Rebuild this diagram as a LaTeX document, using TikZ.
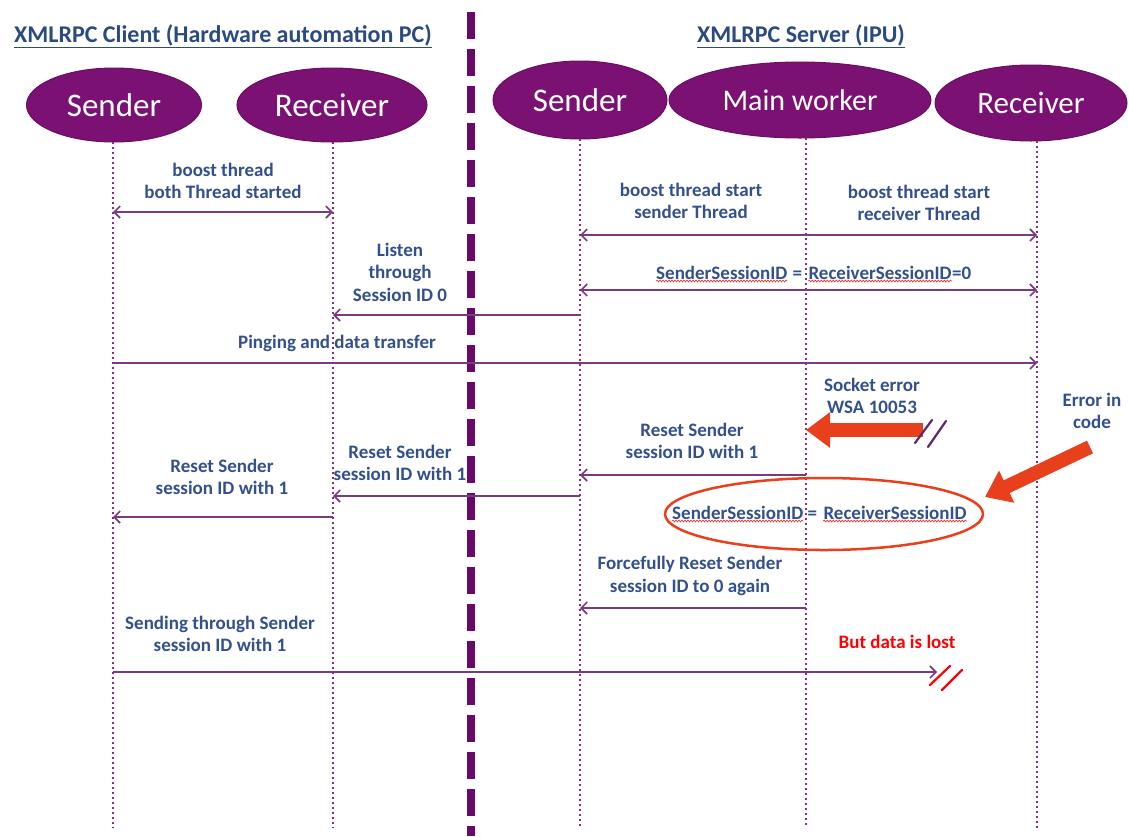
\documentclass[tikz,border=0pt]{standalone}
\usepackage{fontspec}
\setmainfont{Carlito}
\usetikzlibrary{arrows.meta,shapes.geometric,decorations.pathmorphing}
\definecolor{actorfill}{HTML}{7B1173}
\definecolor{lifec}{HTML}{8A2A82}
\definecolor{msgc}{HTML}{7A3A80}
\definecolor{txtc}{HTML}{34508C}
\definecolor{headc}{HTML}{2B4A80}
\definecolor{divc}{HTML}{6A0A68}
\definecolor{errred}{HTML}{E8401C}
\definecolor{slashc}{HTML}{5A2A6A}
\begin{document}
\begin{tikzpicture}[x=1pt,y=-1pt,
 actor/.style={ellipse, fill=actorfill, draw=actorfill!85!black, line width=1pt, text=white, inner sep=0pt},
 life/.style={draw=lifec, line width=2pt, dash pattern=on 2pt off 3pt},
 msg/.style={draw=msgc, line width=1.6pt, -{Straight Barb[length=6pt,width=12pt]}},
 dmsg/.style={draw=msgc, line width=1.6pt, {Straight Barb[length=6pt,width=12pt]}-{Straight Barb[length=6pt,width=12pt]}},
 lbl/.style={text=txtc, align=center, font=\fontsize{19}{22.5}\selectfont\bfseries, inner sep=0pt},
 head/.style={text=headc, font=\fontsize{24}{26}\selectfont\bfseries, inner sep=0pt},
 bigred/.style={draw=errred, line width=14pt, -{Triangle[length=24pt,width=34pt]}},
 wavy/.style={draw=red!85, line width=0.6pt, decorate, decoration={snake, amplitude=1pt, segment length=3pt}},
 slashl/.style={line width=2.2pt, line cap=round}
]
\useasboundingbox[fill=white] (0,0) rectangle (1129,836);

% headings
\node[head] (h1) at (223,36) {\underline{XMLRPC Client (Hardware automation PC)}};
\node[head] (h2) at (801,36) {\underline{XMLRPC Server (IPU)}};

% divider
\draw[divc, line width=8pt, dash pattern=on 27pt off 10pt] (471,12) -- (471,836);

% actors
\node[actor, minimum width=175pt, minimum height=74pt, font=\fontsize{33}{34}\selectfont] (cs) at (114,105) {Sender};
\node[actor, minimum width=190pt, minimum height=74pt, font=\fontsize{33}{34}\selectfont] (cr) at (332,105) {Receiver};
\node[actor, minimum width=174pt, minimum height=78pt, font=\fontsize{33}{34}\selectfont] (ss) at (580,100) {Sender};
\node[actor, minimum width=262pt, minimum height=76pt, font=\fontsize{30}{31}\selectfont] (mw) at (800,100) {Main worker};
\node[actor, minimum width=192pt, minimum height=76pt, font=\fontsize{31}{32}\selectfont] (sr) at (1031,103) {Receiver};

% lifelines
\coordinate (Lcs) at (113,142);
\coordinate (Lcr) at (333,142);
\coordinate (Lss) at (580,139);
\coordinate (Lmw) at (806,138);
\coordinate (Lsr) at (1037,141);
\foreach \l in {Lcs,Lcr,Lss,Lmw,Lsr} \draw[life] (\l) -- (\l |- 0,828);

% client boost thread
\node[lbl] (l1) at (223,181) {boost thread\\both Thread started};
\draw[dmsg] (Lcs |- 0,212) -- (Lcr |- 0,212);

% server boost thread
\node[lbl] (l4) at (691,201) {boost thread start\\sender Thread};
\node[lbl] (l5) at (919,203) {boost thread start\\receiver Thread};
\draw[dmsg] (Lss |- 0,235) -- (Lsr |- 0,235);

% session ids = 0
\node[lbl, anchor=base west] (s1) at (656,279) {SenderSessionID};
\node[lbl, anchor=base west] (e1) at ([xshift=5pt]s1.base east) {=};
\node[lbl, anchor=base west] (r1) at ([xshift=6pt]e1.base east) {ReceiverSessionID};
\node[lbl, anchor=base west] (z1) at (r1.base east) {=0};
\draw[wavy] ([yshift=-2pt]s1.base west) -- ([yshift=-2pt]s1.base east);
\draw[wavy] ([yshift=-2pt]r1.base west) -- ([yshift=-2pt]r1.base east);
\draw[dmsg] (Lss |- 0,290) -- (Lsr |- 0,290);

% listen
\node[lbl] (l2) at (400,272) {Listen\\through\\Session ID 0};
\draw[msg] (Lss |- 0,315) -- (Lcr |- 0,315);

% pinging
\node[lbl] (l3) at (337,343) {Pinging and data transfer};
\draw[msg] (Lcs |- 0,363) -- (Lsr |- 0,363);

% socket error
\node[lbl] (l7) at (872,396) {Socket error\\WSA 10053};
\coordinate (serr) at (923,430);
\draw[bigred] (serr) -- (Lmw |- 0,430);
\draw[slashc, slashl] (915,443) -- (932,420);
\draw[slashc, slashl] (928,447) -- (946,421);

% error in code
\node[lbl] (l9) at (1092,411) {Error in\\code};
\coordinate (ecode) at (1090,447);
\node[draw=errred, line width=2.5pt, ellipse, minimum width=318pt, minimum height=72pt] (errell) at (824,514) {};
\draw[bigred] (ecode) -- (985,497);

% reset sender (server)
\node[lbl] (l8) at (692,441) {Reset Sender\\session ID with 1};
\draw[msg] (Lmw |- 0,475) -- (Lss |- 0,475);

% reset sender (cross)
\node[lbl] (l10) at (400,463) {Reset Sender\\session ID with 1};
\draw[msg] (Lss |- 0,496) -- (Lcr |- 0,496);

% reset sender (client)
\node[lbl] (l11) at (222,477) {Reset Sender\\session ID with 1};
\draw[msg] (Lcr |- 0,517) -- (Lcs |- 0,517);

% ellipse text
\node[lbl, anchor=base west] (s2) at (672,519) {SenderSessionID};
\node[lbl, anchor=base west] (e2) at ([xshift=4pt]s2.base east) {=};
\node[lbl, anchor=base west] (r2) at ([xshift=6pt]e2.base east) {ReceiverSessionID};
\draw[wavy] ([yshift=-2pt]s2.base west) -- ([yshift=-2pt]s2.base east);
\draw[wavy] ([yshift=-2pt]r2.base west) -- ([yshift=-2pt]r2.base east);

% forcefully reset
\node[lbl] (l13) at (690,576) {Forcefully Reset Sender\\session ID to 0 again};
\draw[msg] (Lmw |- 0,608) -- (Lss |- 0,608);

% sending through
\node[lbl] (l15) at (220,634) {Sending through Sender\\session ID with 1};
\node[lbl, text=red] (l14) at (897,642) {But data is lost};
\coordinate (lost) at (937,672);
\draw[msg] (Lcs |- 0,672) -- (lost);
\draw[red, slashl] (930,685) -- (950,666);
\draw[red, slashl] (942,690) -- (962,670);
\end{tikzpicture}
\end{document}
